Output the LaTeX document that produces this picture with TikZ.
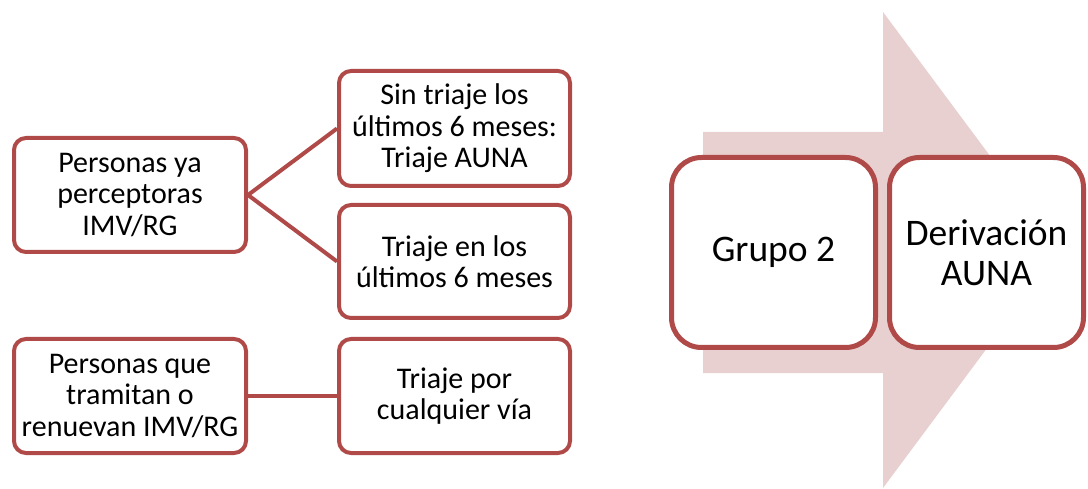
\documentclass[tikz,border=0pt]{standalone}
\usepackage{fontspec}
\setmainfont{Carlito}
\definecolor{rojocaja}{RGB}{176,74,72}
\definecolor{rosaflecha}{RGB}{232,207,208}
\tikzset{
  caja/.style={draw=rojocaja, line width=4pt, rounded corners=12pt, fill=white, align=center,
    inner sep=0pt, minimum width=232pt, minimum height=114pt, font=\fontsize{30}{31.5}\selectfont},
  cajagrande/.style={caja, line width=5pt, rounded corners=30pt, minimum height=190pt,
    font=\fontsize{37.5}{40}\selectfont},
  enlace/.style={draw=rojocaja, line width=4pt}
}

\begin{document}
\begin{tikzpicture}[x=1pt,y=-1pt]
    \useasboundingbox (0,0) rectangle (1088,489);
    % flecha de fondo
    \fill[rosaflecha] (703,132) -- (883,132) -- (883,12) -- (1060,250) -- (883,488) -- (883,373) -- (703,373) -- cycle;
    % columna izquierda
    \node[caja] (perceptoras) at (130,195) {Personas ya\\perceptoras\\IMV/RG};
    \node[caja] (tramitan) at (130,396) {Personas que\\tramitan o\\renuevan IMV/RG};
    % columna central
    \node[caja, minimum width=231pt, minimum height=115pt] (sintriaje) at (454.5,128.5) {Sin triaje los\\últimos 6 meses:\\Triaje AUNA};
    \node[caja, minimum width=231pt, minimum height=113pt] (contriaje) at (454.5,261.5) {Triaje en los\\últimos 6 meses};
    \node[caja, minimum width=231pt] (cualquier) at (454.5,396) {Triaje por\\cualquier vía};
    \draw[enlace] (perceptoras.east) -- (sintriaje.west);
    \draw[enlace] (perceptoras.east) -- (contriaje.west);
    \draw[enlace] (tramitan.east) -- (cualquier.west);
    % grupo y derivacion
    \node[cajagrande, minimum width=204pt] (grupo) at (773.5,252.5) {Grupo 2};
    \node[cajagrande, minimum width=194pt] (derivacion) at (986.5,252.5) {Derivación\\AUNA};
\end{tikzpicture}
\end{document}
